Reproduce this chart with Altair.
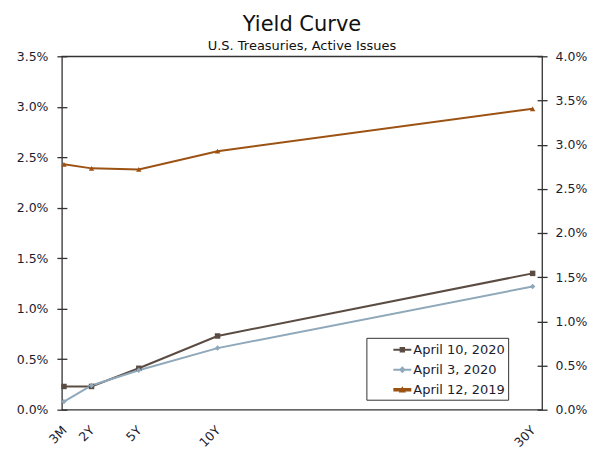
import altair as alt
import pandas as pd

maturity = [0.25, 2, 5, 10, 30]
tenor_labels = ["3M", "2Y", "5Y", "10Y", "30Y"]
series_names = ["April 10, 2020", "April 3, 2020", "April 12, 2019"]
apr10_2020 = [0.23, 0.23, 0.41, 0.73, 1.35]
apr3_2020 = [0.08, 0.24, 0.39, 0.61, 1.22]
apr12_2019 = [2.43, 2.39, 2.38, 2.56, 2.98]
colors = ["#5b4c43", "#8fa8ba", "#9c5213"]
line_widths = [2, 2, 3]
marker_shapes = ["square", "diamond", "triangle-up"]
left_ticks = [0, 0.5, 1.0, 1.5, 2.0, 2.5, 3.0, 3.5]
right_ticks = [0, 0.5, 1.0, 1.5, 2.0, 2.5, 3.0, 3.5, 4.0]

# legend glyphs: line segment + marker (unit-box custom paths)
legend_paths = [
    "M-1,-0.11H1V0.11H-1Z M-0.3,-0.3H0.3V0.3H-0.3Z",
    "M-1,-0.11H1V0.11H-1Z M0,-0.38L0.38,0L0,0.38L-0.38,0Z",
    "M-1,-0.2H1V0.2H-1Z M0,-0.38L0.4,0.32L-0.4,0.32Z",
]

rows = []
for name, vals in zip(series_names, [apr10_2020, apr3_2020, apr12_2019]):
    for m, t, v in zip(maturity, tenor_labels, vals):
        rows.append({"series": name, "maturity": m, "tenor": t, "yield": v})
df = pd.DataFrame(rows)

FONT = "DejaVu Sans"
TXT = "#1c1c30"

label_expr = " : ".join(
    f"datum.value == {m} ? '{t}'" for m, t in zip(maturity, tenor_labels)
) + " : ''"

x_enc = alt.X(
    "maturity:Q",
    scale=alt.Scale(domain=[0.12, 30.6], nice=False, zero=False),
    axis=alt.Axis(
        values=maturity, labelExpr=label_expr, title=None, ticks=False,
        domain=False, grid=False, labelAngle=315, labelPadding=14, labelOffset=-4,
        labelFontSize=12.5, labelFont=FONT, labelColor=TXT,
    ),
)

y_left = alt.Y(
    "yield:Q",
    scale=alt.Scale(domain=[0, 3.5], nice=False),
    axis=alt.Axis(
        values=left_ticks, labelExpr="format(datum.value, '.1f') + '%'",
        title=None, grid=False, domain=False, offset=-5, tickSize=10,
        tickColor="#333", tickWidth=1.3, labelPadding=9, labelFontSize=12.5,
        labelFont=FONT, labelColor=TXT,
    ),
)

color_scale = alt.Scale(domain=series_names, range=colors)

base = alt.Chart(df)

lines = base.mark_line().encode(
    x=x_enc,
    y=y_left,
    color=alt.Color("series:N", scale=color_scale, legend=None),
    strokeWidth=alt.StrokeWidth(
        "series:N", scale=alt.Scale(domain=series_names, range=line_widths), legend=None
    ),
    order=alt.Order("maturity:Q"),
)

points = base.mark_point(filled=True, size=30, opacity=1).encode(
    x=x_enc,
    y=y_left,
    color=alt.Color("series:N", scale=color_scale, legend=None),
    shape=alt.Shape(
        "series:N", scale=alt.Scale(domain=series_names, range=marker_shapes), legend=None
    ),
)

left = alt.layer(lines, points)

legend_layer = base.transform_filter("datum.maturity < 0").mark_point(
    filled=True, opacity=1
).encode(
    x=x_enc,
    y=alt.Y(
        "yield:Q",
        scale=alt.Scale(domain=[0, 4.0], nice=False),
        axis=alt.Axis(
            orient="right", values=right_ticks,
            labelExpr="format(datum.value, '.1f') + '%'", title=None, grid=False,
            domain=False, offset=-5, tickSize=10, tickColor="#333", tickWidth=1.3,
            labelPadding=8, labelFontSize=12.5, labelFont=FONT, labelColor=TXT,
        ),
    ),
    color=alt.Color(
        "series:N",
        scale=color_scale,
        legend=alt.Legend(
            title=None, orient="none", legendX=305, legendY=282, direction="vertical",
            strokeColor="#333", padding=3, symbolSize=324, symbolOffset=24,
            labelOffset=2, rowPadding=4, labelFontSize=13, labelFont=FONT,
            labelColor=TXT, symbolStrokeWidth=0,
            labelExpr="datum.label + '\u00a0\u00a0\u00a0\u00a0\u00a0\u00a0'",
        ),
    ),
    shape=alt.Shape(
        "series:N", scale=alt.Scale(domain=series_names, range=legend_paths)
    ),
)

chart = (
    alt.layer(left, legend_layer)
    .resolve_scale(y="independent", color="independent", shape="independent")
    .properties(
        width=481,
        height=354,
        background="white",
        autosize=alt.AutoSizeParams(type="none"),
        padding={"left": 54, "top": 48, "right": 50, "bottom": 40},
        title=alt.Title(
            "Yield Curve",
            subtitle="U.S. Treasuries, Active Issues",
            anchor="middle",
            font=FONT,
            fontSize=21,
            fontWeight="normal",
            color="#111",
            subtitleFont=FONT,
            subtitleFontSize=13,
            subtitleColor="#111",
            subtitlePadding=5,
            offset=-3,
        ),
    )
    .configure_view(stroke="#333", strokeWidth=1.3)
)

chart.save("out.html", embed_options={"renderer": "svg", "actions": False})
